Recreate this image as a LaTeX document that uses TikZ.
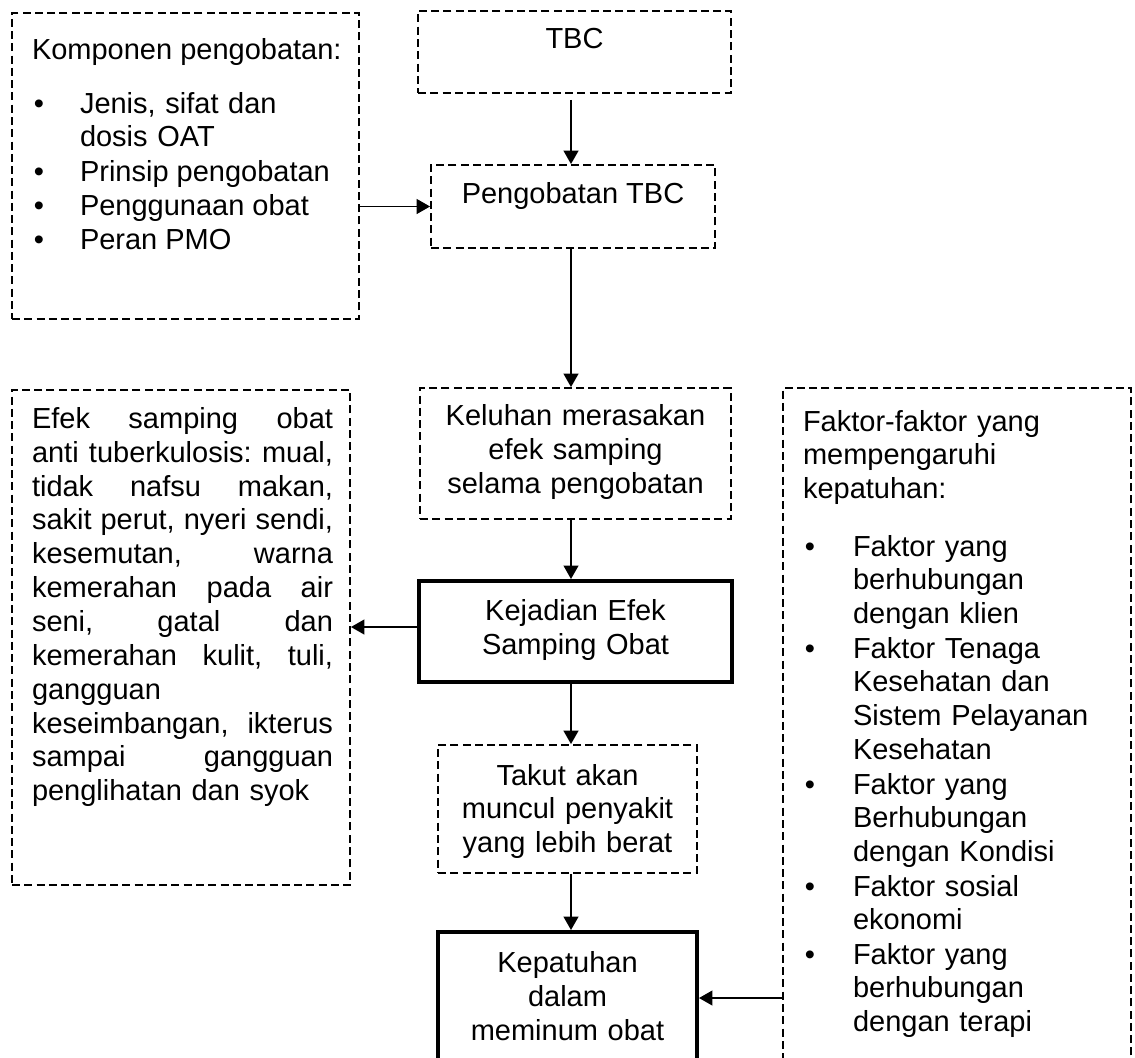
\documentclass[tikz,border=0pt]{standalone}
\usepackage{fontspec}
\setmainfont{Liberation Sans}
\usetikzlibrary{arrows.meta,fit}
\begin{document}
\begin{tikzpicture}[x=0.75pt,y=-0.75pt,
  dbox/.style={draw, line width=1.4pt, dash pattern=on 6pt off 3.2pt, inner sep=0pt},
  tbox/.style={draw, line width=3pt, inner sep=0pt},
  txt/.style={inner sep=0pt, outer sep=0pt, font=\fontsize{21.75pt}{25.4pt}\selectfont},
  arr/.style={line width=1.4pt, -{Triangle[length=10pt,width=11pt]}},
]
\useasboundingbox (0,0) rectangle (1135,1057);
\clip (0,0) rectangle (1135,1057);

% boxes
\node[dbox, fit={(12,13) (359,319)}] (komp) {};
\node[dbox, fit={(418,11) (731,93)}] (tbc) {};
\node[dbox, fit={(431,165) (715,248)}] (peng) {};
\node[dbox, fit={(420,388) (731,519)}] (kel) {};
\node[tbox, fit={(419,581) (732,682)}] (kej) {};
\node[dbox, fit={(12,390) (350,885)}] (efek) {};
\node[dbox, fit={(438,745) (697,873)}] (tak) {};
\node[tbox, fit={(438,932) (697,1100)}] (kep) {};
\node[dbox, fit={(783,388) (1131,1100)}] (fak) {};

% texts
\node[txt, anchor=base] (tbct) at (574.5,48) {TBC};
\node[txt, anchor=base] (pengt) at (573,203) {Pengobatan TBC};
\node[txt, anchor=base, text width=225pt, align=center] (kelt) at (575.5,425.5)
  {Keluhan merasakan\\efek samping\\selama pengobatan};
\node[txt, anchor=base, text width=225pt, align=center] (kejt) at (575.5,620.7)
  {Kejadian Efek\\Samping Obat};
\node[txt, anchor=base, text width=190pt, align=center] (takt) at (567.5,785)
  {Takut akan\\muncul penyakit\\yang lebih berat};
\node[txt, anchor=base, text width=190pt, align=center] (kept) at (567.5,972.7)
  {Kepatuhan\\dalam\\meminum obat};

% Komponen list
\node[txt, anchor=base west] (kompH) at (32,59) {Komponen pengobatan:};
\node[txt, anchor=base] (kb1) at (39,113) {\textbullet};
\node[txt, anchor=base west, text width=210pt, align=left] (ki1) at (80,113) {Jenis, sifat dan\\dosis OAT};
\node[txt, anchor=base] (kb2) at (39,181) {\textbullet};
\node[txt, anchor=base west] (ki2) at (80,181) {Prinsip pengobatan};
\node[txt, anchor=base] (kb3) at (39,215) {\textbullet};
\node[txt, anchor=base west] (ki3) at (80,215) {Penggunaan obat};
\node[txt, anchor=base] (kb4) at (39,249) {\textbullet};
\node[txt, anchor=base west] (ki4) at (80,249) {Peran PMO};

% Efek paragraph
\node[txt, anchor=base west, text width=225.75pt, align=left] (efekt) at (32,428.3) {%
Efek\hfill samping\hfill obat\\
anti\hfill tuberkulosis:\hfill mual,\\
tidak\hfill nafsu\hfill makan,\\
sakit\hfill perut,\hfill nyeri\hfill sendi,\\
kesemutan,\hfill warna\\
kemerahan\hfill pada\hfill air\\
seni,\hfill gatal\hfill dan\\
kemerahan\hfill kulit,\hfill tuli,\\
gangguan\\
keseimbangan,\hfill ikterus\\
sampai\hfill gangguan\\
penglihatan dan syok};

% Faktor list
\node[txt, anchor=base west, text width=240pt, align=left] (fakH) at (803,431)
  {Faktor-faktor yang\\mempengaruhi\\kepatuhan:};
\node[txt, anchor=base] (fb1) at (810,556) {\textbullet};
\node[txt, anchor=base west, text width=200pt, align=left] (fi1) at (853,556) {Faktor yang\\berhubungan\\dengan klien};
\node[txt, anchor=base] (fb2) at (810,658) {\textbullet};
\node[txt, anchor=base west, text width=200pt, align=left] (fi2) at (853,658) {Faktor Tenaga\\Kesehatan dan\\Sistem Pelayanan\\Kesehatan};
\node[txt, anchor=base] (fb3) at (810,794) {\textbullet};
\node[txt, anchor=base west, text width=200pt, align=left] (fi3) at (853,794) {Faktor yang\\Berhubungan\\dengan Kondisi};
\node[txt, anchor=base] (fb4) at (810,896) {\textbullet};
\node[txt, anchor=base west, text width=200pt, align=left] (fi4) at (853,896) {Faktor sosial\\ekonomi};
\node[txt, anchor=base] (fb5) at (810,964) {\textbullet};
\node[txt, anchor=base west, text width=200pt, align=left] (fi5) at (853,964) {Faktor yang\\berhubungan\\dengan terapi};

% connectors
\coordinate (ax) at (571,0);
\coordinate (ky) at (0,998);
\coordinate (ey) at (0,627);
\draw[arr, shorten <=4.5pt] (tbc.south -| ax) -- (peng.north -| ax);
\draw[arr] (komp.east |- peng.west) -- (peng.west);
\draw[arr] (peng.south -| ax) -- (kel.north -| ax);
\draw[arr] (kel.south -| ax) -- (kej.north -| ax);
\draw[arr] (kej.west |- ey) -- (efek.east |- ey);
\draw[arr] (kej.south -| ax) -- (tak.north -| ax);
\draw[arr] (tak.south -| ax) -- (kep.north -| ax);
\draw[arr] (fak.west |- ky) -- (kep.east |- ky);
\end{tikzpicture}
\end{document}
